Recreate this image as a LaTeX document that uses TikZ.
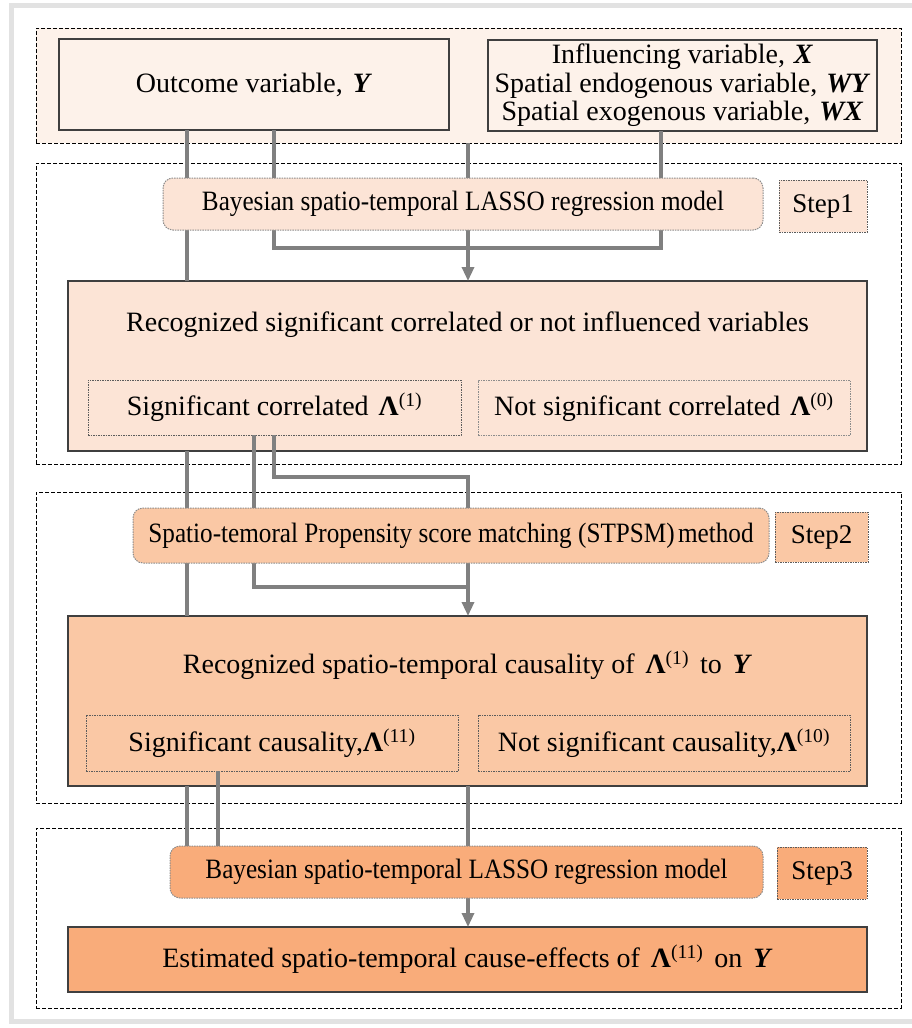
\documentclass[tikz,border=0pt]{standalone}
\usepackage{fontspec}
\setmainfont{Liberation Serif}
\newfontfamily\condfont[FakeStretch=0.9]{Liberation Serif}
\usetikzlibrary{arrows.meta}
\pgfdeclarelayer{bg}\pgfdeclarelayer{mid}\pgfdeclarelayer{conn}
\pgfsetlayers{bg,mid,conn,main}
\definecolor{cTop}{HTML}{FDF2EA}
\definecolor{cOne}{HTML}{FCE4D6}
\definecolor{cTwo}{HTML}{FAC8A5}
\definecolor{cThree}{HTML}{F9AC7A}
\definecolor{cLine}{HTML}{808080}
\definecolor{cBorder}{HTML}{3F3F3F}
\definecolor{cFrame}{HTML}{E2E2E2}
\tikzset{
  region/.style={draw=black, line width=1pt, dash pattern=on 4pt off 2pt, inner sep=0pt, outer sep=0pt},
  solidbox/.style={draw=cBorder, line width=1.5pt, inner sep=0pt, outer sep=0pt},
  dotbox/.style={draw=cBorder!85, line width=1pt, dash pattern=on 1.5pt off 1pt, inner sep=0pt, outer sep=0pt},
  roundbox/.style={dotbox, draw=cBorder!60, rounded corners=10pt},
  conn/.style={draw=cLine, line width=3.2pt},
  arrowconn/.style={conn, -{Triangle[length=14pt,width=12pt]}},
  steplabel/.style={dotbox, font=\fontsize{27pt}{27pt}\selectfont},
  condtext/.style={font=\condfont\fontsize{28pt}{28pt}\selectfont}
}
\newcommand{\bi}[1]{\textbf{\textit{#1}}}
\newcommand{\Lam}[1]{\textbf{Λ}\textsuperscript{(#1)}}
\begin{document}
\begin{tikzpicture}[x=1pt, y=-1pt, font=\fontsize{28pt}{28pt}\selectfont]
\useasboundingbox (0,0) rectangle (912,1028);

% coordinates for connector x positions
\coordinate (xa) at (187,0);
\coordinate (xb) at (274,0);
\coordinate (xc) at (468,0);
\coordinate (xd) at (661,0);
\coordinate (xe) at (254,0);
\coordinate (xf) at (218,0);
\coordinate (m1) at (468,248);
\coordinate (m2) at (468,477);
\coordinate (m3) at (468,587);

\begin{pgfonlayer}{bg}
\fill[white] (0,0) rectangle (912,1028);
\draw[cFrame, line width=4.5pt] (920,5.5) -- (11.5,5.5) -- (11.5,1021.5) -- (920,1021.5);
\node[region, fill=cTop, minimum width=865pt, minimum height=115pt] (topreg) at (468.5,85.5) {};
\node[region, minimum width=865pt, minimum height=301pt] (reg1) at (468.5,313.5) {};
\node[region, minimum width=865pt, minimum height=311pt] (reg2) at (468.5,647.5) {};
\node[region, minimum width=865pt, minimum height=180pt] (reg3) at (468.5,918) {};
\end{pgfonlayer}

\begin{pgfonlayer}{mid}
\node[solidbox, fill=cTop, minimum width=390pt, minimum height=91pt] (out) at (254,84.5) {Outcome variable,\hspace{10pt}\bi{Y}};
\node[solidbox, fill=cTop, minimum width=389pt, minimum height=91pt, align=center,
      font=\fontsize{28pt}{28.5pt}\selectfont] (infl) at (682.5,85.5)
  {Influencing variable,\hspace{9pt}\bi{X}\\Spatial endogenous variable,\hspace{9pt}\bi{WY}\\Spatial exogenous variable,\hspace{9pt}\bi{WX}};

\node[solidbox, fill=cOne, minimum width=799pt, minimum height=170pt] (rec1) at (467.5,366) {};
\node (rec1t) at (467.5,325) {Recognized significant correlated or not influenced variables};
\node[dotbox, minimum width=373pt, minimum height=55pt] (sigc) at (274.5,407.5) {Significant correlated\hspace{10pt}\Lam{1}};
\node[dotbox, draw=cBorder!60, minimum width=372pt, minimum height=55pt] (nsigc) at (664,407.5) {Not significant correlated\hspace{10pt}\Lam{0}};

\node[solidbox, fill=cTwo, minimum width=799pt, minimum height=170pt] (rec2) at (467.5,701) {};
\node (rec2t) at (467.5,665) {Recognized spatio-temporal causality of\hspace{11pt}\Lam{1}\hspace{11pt}to\hspace{11pt}\bi{Y}};
\node[dotbox, minimum width=372pt, minimum height=56pt] (sigca) at (272,743) {Significant causality,\Lam{11}};
\node[dotbox, minimum width=372pt, minimum height=56pt] (nsigca) at (664,743) {Not significant causality,\Lam{10}};

\node[solidbox, fill=cThree, minimum width=799pt, minimum height=65pt] (fin) at (467.5,959.5) {Estimated spatio-temporal cause-effects of\hspace{11pt}\Lam{11}\hspace{11pt}on\hspace{11pt}\bi{Y}};
\end{pgfonlayer}

% main layer: process boxes and step labels
\node[roundbox, fill=cOne, minimum width=600pt, minimum height=52pt, condtext] (bay1) at (463,204) {Bayesian spatio-temporal LASSO regression model};
\node[steplabel, fill=cOne, minimum width=88pt, minimum height=52pt] (step1) at (823,206) {Step1};
\node[roundbox, fill=cTwo, minimum width=636pt, minimum height=55pt, condtext] (stpsm) at (451,535.5) {Spatio-temoral Propensity score matching (STPSM)\hspace{-3pt} method};
\node[steplabel, fill=cTwo, minimum width=93pt, minimum height=50pt] (step2) at (821.5,537) {Step2};
\node[roundbox, fill=cThree, minimum width=593pt, minimum height=52pt, condtext] (bay3) at (466.5,872) {Bayesian spatio-temporal LASSO regression model};
\node[steplabel, fill=cThree, minimum width=90pt, minimum height=52pt] (step3) at (822,873) {Step3};

\begin{pgfonlayer}{conn}
\draw[conn] (out.south -| xa) -- (rec1.north -| xa);
\draw[conn] (out.south -| xb) -- (bay1.north -| xb);
\draw[conn] (topreg.south -| xc) -- (bay1.north -| xc);
\draw[conn] (infl.south -| xd) -- (bay1.north -| xd);
\draw[conn] (bay1.south -| xb) |- (m1) -| (bay1.south -| xd);
\draw[arrowconn] (bay1.south -| xc) -- (rec1.north -| xc);

\draw[conn] (rec1.south -| xa) -- (rec2.north -| xa);
\draw[conn] (sigc.south -| xe) -- (stpsm.north -| xe);
\draw[conn] (sigc.south -| xb) |- (m2) -- (stpsm.north -| xc);
\draw[conn] (stpsm.south -| xe) |- (m3);
\draw[arrowconn] (stpsm.south -| xc) -- (rec2.north -| xc);

\draw[conn] (rec2.south -| xa) -- (bay3.north -| xa);
\draw[conn] (sigca.south -| xf) -- (bay3.north -| xf);
\draw[conn] (rec2.south -| xc) -- (bay3.north -| xc);
\draw[arrowconn] (bay3.south -| xc) -- (fin.north -| xc);
\end{pgfonlayer}
\end{tikzpicture}
\end{document}
